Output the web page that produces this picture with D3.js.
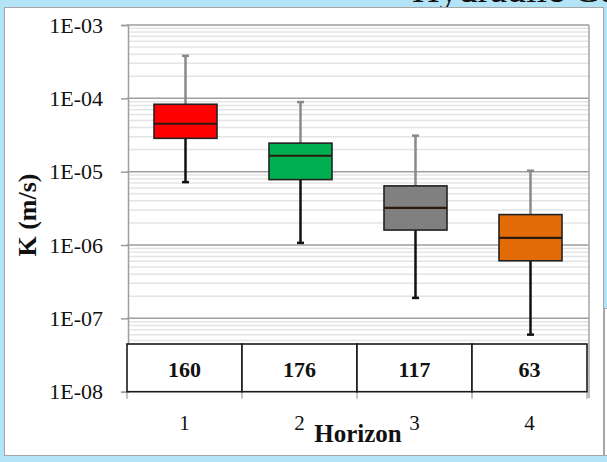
<!DOCTYPE html>
<html>
<head>
<meta charset="utf-8">
<script src="https://cdn.jsdelivr.net/npm/d3@7"></script>
<style>
  html, body { margin: 0; padding: 0; background: #b3e3f6; }
  svg { display: block; }
  text { font-family: "Liberation Serif", "Times New Roman", serif; fill: #111; }
</style>
</head>
<body>
<svg id="chart" width="607" height="462"></svg>
<script>
// Hydraulic conductivity (K) per soil horizon
const horizons    = ["1", "2", "3", "4"];
const sampleCount = [160, 176, 117, 63];
const whiskerHigh = [3.8e-4, 8.9e-5, 3.1e-5, 1.03e-5];
const q3          = [8.3e-5, 2.45e-5, 6.4e-6, 2.6e-6];
const median      = [4.5e-5, 1.65e-5, 3.2e-6, 1.25e-6];
const q1          = [2.85e-5, 7.8e-6, 1.6e-6, 6.1e-7];
const whiskerLow  = [7.2e-6, 1.07e-6, 1.9e-7, 6.0e-8];
const boxColors   = ["#ff0000", "#00b050", "#808080", "#e36c09"];
const yTickValues = [1e-3, 1e-4, 1e-5, 1e-6, 1e-7, 1e-8];
const yTickLabels = ["1E-03", "1E-04", "1E-05", "1E-06", "1E-07", "1E-08"];

const svg = d3.select("#chart");

// slide title, mostly above the panel
svg.append("text")
  .attr("x", 412).attr("y", 2)
  .style("font-size", "38px")
  .text("Hydraulic Conductivity");

// panel behind the chart
svg.append("rect")
  .attr("x", 604.5).attr("y", 308.5).attr("width", 10).attr("height", 147)
  .attr("fill", "#fff").attr("stroke", "#a6a6a6");
svg.append("rect")
  .attr("x", 4.5).attr("y", 7.5).attr("width", 599).attr("height", 448)
  .attr("fill", "#fff").attr("stroke", "#a6a6a6");

const plotLeft = 127, plotRight = 587, plotTop = 25, plotBottom = 391.7;

const x = d3.scaleBand().domain(horizons).range([plotLeft, plotRight]);
const y = d3.scaleLog().domain([1e-8, 1e-3]).range([plotBottom, plotTop]);

// minor grid lines (2..9 of each decade)
const minor = [];
for (let e = -8; e < -3; e++) for (let m = 2; m <= 9; m++) minor.push(m * Math.pow(10, e));
svg.append("g").selectAll("line").data(minor).join("line")
  .attr("x1", plotLeft + 1).attr("x2", 589)
  .attr("y1", d => y(d)).attr("y2", d => y(d))
  .attr("stroke", "#e4e4e4").attr("stroke-width", 1.5);

// major grid lines
svg.append("g").selectAll("line").data(yTickValues.slice(0, -1)).join("line")
  .attr("x1", plotLeft).attr("x2", 589)
  .attr("y1", d => y(d)).attr("y2", d => y(d))
  .attr("stroke", "#9e9e9e").attr("stroke-width", 1.5);

// right frame edge
svg.append("line")
  .attr("x1", 589).attr("x2", 589).attr("y1", plotTop).attr("y2", 398)
  .attr("stroke", "#a6a6a6").attr("stroke-width", 1.5);

// y axis
const yAxis = d3.axisLeft(y)
  .tickValues(yTickValues)
  .tickFormat((d, i) => yTickLabels[i])
  .tickSize(7).tickPadding(18);
const gy = svg.append("g").attr("transform", `translate(${plotLeft + 1},0)`).call(yAxis);
gy.select(".domain").attr("stroke", "#9e9e9e").attr("stroke-width", 1.5);
gy.selectAll(".tick line").attr("stroke", "#9e9e9e").attr("stroke-width", 1.5);
gy.selectAll(".tick text")
  .style("font-family", '"Liberation Serif", serif')
  .style("font-size", "22px").attr("fill", "#111");

// x axis ticks at category boundaries
const bounds = horizons.map(h => x(h)).concat([plotRight]);
svg.append("g").selectAll("line").data(bounds).join("line")
  .attr("x1", d => d).attr("x2", d => d)
  .attr("y1", plotBottom).attr("y2", plotBottom + 7)
  .attr("stroke", "#b0b0b0").attr("stroke-width", 1.5);
svg.append("g").selectAll("text").data(horizons).join("text")
  .attr("x", d => x(d) + x.bandwidth() / 2)
  .attr("y", 430)
  .attr("text-anchor", "middle")
  .style("font-size", "21px")
  .text(d => d);

// sample count table along the bottom of the plot
const tableTop = 344;
const tbl = svg.append("g");
tbl.selectAll("rect").data(horizons).join("rect")
  .attr("x", d => x(d))
  .attr("y", tableTop)
  .attr("width", x.bandwidth())
  .attr("height", plotBottom - tableTop)
  .attr("fill", "#fff").attr("stroke", "#1a1a1a").attr("stroke-width", 1.6);
tbl.selectAll("text").data(horizons).join("text")
  .attr("x", d => x(d) + x.bandwidth() / 2)
  .attr("y", 377)
  .attr("text-anchor", "middle")
  .style("font-size", "22px").style("font-weight", "bold")
  .text((d, i) => sampleCount[i]);

// box plots
const boxW = 63, capW = 6;
const boxes = svg.append("g").selectAll("g").data(horizons).join("g")
  .attr("transform", d => `translate(${x(d) + x.bandwidth() / 2 + 1},0)`);

// upper whisker (grey)
boxes.append("line")
  .attr("x1", 0).attr("x2", 0)
  .attr("y1", (d, i) => y(whiskerHigh[i])).attr("y2", (d, i) => y(q3[i]))
  .attr("stroke", "#8a8a8a").attr("stroke-width", 2.5);
boxes.append("line")
  .attr("x1", -capW / 2 - 0.5).attr("x2", capW / 2 + 0.5)
  .attr("y1", (d, i) => y(whiskerHigh[i])).attr("y2", (d, i) => y(whiskerHigh[i]))
  .attr("stroke", "#8a8a8a").attr("stroke-width", 2.5);

// lower whisker (black)
boxes.append("line")
  .attr("x1", 0).attr("x2", 0)
  .attr("y1", (d, i) => y(q1[i])).attr("y2", (d, i) => y(whiskerLow[i]))
  .attr("stroke", "#111").attr("stroke-width", 2.5);
boxes.append("line")
  .attr("x1", -capW / 2 - 0.5).attr("x2", capW / 2 + 0.5)
  .attr("y1", (d, i) => y(whiskerLow[i])).attr("y2", (d, i) => y(whiskerLow[i]))
  .attr("stroke", "#111").attr("stroke-width", 2.5);

// interquartile box
boxes.append("rect")
  .attr("x", -boxW / 2)
  .attr("y", (d, i) => y(q3[i]))
  .attr("width", boxW)
  .attr("height", (d, i) => y(q1[i]) - y(q3[i]))
  .attr("fill", (d, i) => boxColors[i])
  .attr("stroke", "#222").attr("stroke-width", 1.6);

// median
boxes.append("line")
  .attr("x1", -boxW / 2).attr("x2", boxW / 2)
  .attr("y1", (d, i) => y(median[i])).attr("y2", (d, i) => y(median[i]))
  .attr("stroke", "#2a1a10").attr("stroke-width", 2.2);

// axis titles
svg.append("text")
  .attr("x", 358).attr("y", 442)
  .attr("text-anchor", "middle")
  .style("font-size", "25px").style("font-weight", "bold")
  .text("Horizon");
svg.append("text")
  .attr("transform", "translate(36,215) rotate(-90)")
  .attr("text-anchor", "middle")
  .style("font-size", "26px").style("font-weight", "bold")
  .text("K (m/s)");
</script>
</body>
</html>
